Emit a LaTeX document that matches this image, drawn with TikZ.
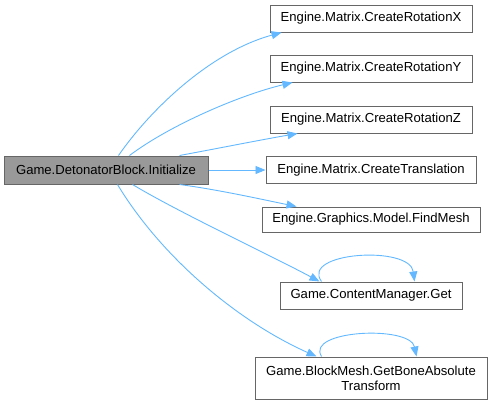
\documentclass[tikz,border=0pt]{standalone}
\usepackage{fontspec}
\setmainfont{Liberation Sans}
\usetikzlibrary{arrows.meta,calc}
\definecolor{edgeblue}{HTML}{63B8FF}
\definecolor{boxborder}{HTML}{666666}
\definecolor{mainfill}{HTML}{999999}
\begin{document}
\begin{tikzpicture}[x=1pt,y=-1pt,
  fn/.style={draw=boxborder,line width=1pt,fill=white,inner sep=0pt,align=center,
    font=\fontsize{13.1}{15}\selectfont,minimum height=27pt},
  mainbox/.style={fn,fill=mainfill},
  call/.style={draw=edgeblue,line width=0.9pt,-{Triangle[length=10pt,width=8pt]}}
]
\useasboundingbox (0,0) rectangle (492,405);
\node[mainbox,minimum width=204pt,minimum height=28pt] (main) at (106,170) {Game.DetonatorBlock.Initialize};
\node[fn,minimum width=202pt] (rx) at (371,18.5) {Engine.Matrix.CreateRotationX};
\node[fn,minimum width=202pt] (ry) at (371,68.5) {Engine.Matrix.CreateRotationY};
\node[fn,minimum width=202pt] (rz) at (371,119.5) {Engine.Matrix.CreateRotationZ};
\node[fn,minimum width=210pt] (tr) at (371,170) {Engine.Matrix.CreateTranslation};
\node[fn,minimum width=218pt,minimum height=25pt] (fm) at (371,219.5) {Engine.Graphics.Model.FindMesh};
\node[fn,minimum width=182pt] (cm) at (371,295.5) {Game.ContentManager.Get};
\node[fn,minimum width=232pt,minimum height=42pt] (bm) at (371,378) {Game.BlockMesh.GetBoneAbsolute\\Transform};

\draw[call] ($(main.north west)+(115,0)$) .. controls (150,110) and (210,52) .. ($(rx.south west)+(12,0)$);
\draw[call] ($(main.north west)+(126,0)$) .. controls (170,125) and (240,95) .. ($(ry.south west)+(23,0)$);
\draw[call] ($(main.north west)+(176,0)$) .. controls (220,148) and (260,140) .. ($(rz.south west)+(28,0)$);
\draw[call] (main.east) -- (tr.west);
\draw[call] ($(main.south west)+(176,0)$) .. controls (220,190) and (260,199) .. ($(fm.north west)+(35,0)$);
\draw[call] ($(main.south west)+(129,0)$) .. controls (180,213) and (270,255) .. ($(cm.north west)+(40,0)$);
\draw[call] ($(main.south west)+(114,0)$) .. controls (160,255) and (235,320) .. ($(bm.north west)+(62,0)$);

\draw[call] ($(cm.north west)+(42,0)$) .. controls (300,252) and (410,245) .. ($(cm.north west)+(135,0)$);
\draw[call] ($(bm.north west)+(67,0)$) .. controls (305,330) and (410,325) .. ($(bm.north west)+(162,0)$);
\end{tikzpicture}
\end{document}
